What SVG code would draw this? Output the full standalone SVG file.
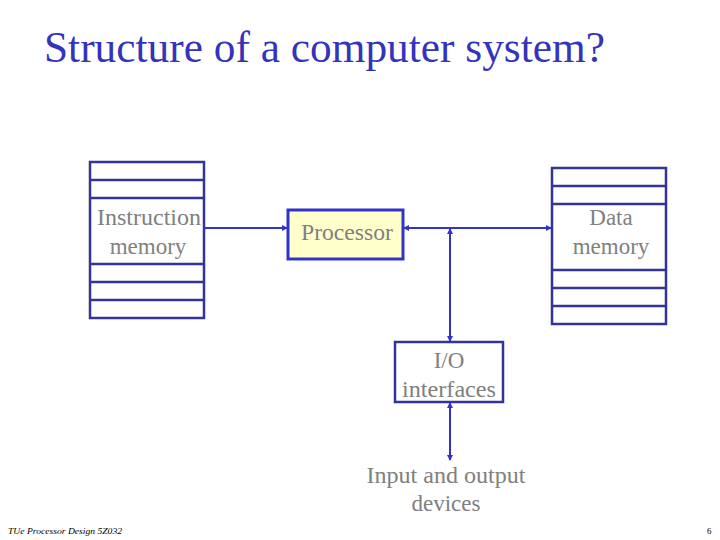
<svg xmlns="http://www.w3.org/2000/svg" width="720" height="540" viewBox="0 0 720 540">
<style>
.serif{font-family:"Liberation Serif","Times New Roman","DejaVu Serif",serif}
.box{fill:#fff;stroke:#333399;stroke-width:2.5}
.row{stroke:#333399;stroke-width:2.5}
.lbl{font-family:"Liberation Serif","Times New Roman","DejaVu Serif",serif;font-size:23px;fill:#808080;text-anchor:middle}
.con{stroke:#3333cc;stroke-width:2;fill:none}
</style>
<defs>
<marker id="ah" markerWidth="6" markerHeight="6" refX="5" refY="3" orient="auto-start-reverse" markerUnits="userSpaceOnUse">
<path d="M0,0 L6,3 L0,6 z" fill="#3333cc"/>
</marker>
</defs>
<rect width="720" height="540" fill="#fff"/>
<text class="serif" x="44" y="62" font-size="45" fill="#3333bb" textLength="561" lengthAdjust="spacingAndGlyphs">Structure of a computer system?</text>
<g id="instr">
<rect class="box" x="90" y="162" width="114" height="156"/>
<line class="row" x1="90" y1="180" x2="204" y2="180"/>
<line class="row" x1="90" y1="198" x2="204" y2="198"/>
<line class="row" x1="90" y1="264" x2="204" y2="264"/>
<line class="row" x1="90" y1="282" x2="204" y2="282"/>
<line class="row" x1="90" y1="300" x2="204" y2="300"/>
<text class="lbl" x="149" y="225" textLength="104" lengthAdjust="spacingAndGlyphs">Instruction</text>
<text class="lbl" x="148" y="254">memory</text>
</g>
<g id="data">
<rect class="box" x="552" y="168" width="114" height="156"/>
<line class="row" x1="552" y1="186" x2="666" y2="186"/>
<line class="row" x1="552" y1="204" x2="666" y2="204"/>
<line class="row" x1="552" y1="270" x2="666" y2="270"/>
<line class="row" x1="552" y1="288" x2="666" y2="288"/>
<line class="row" x1="552" y1="306" x2="666" y2="306"/>
<text class="lbl" x="611" y="225">Data</text>
<text class="lbl" x="611" y="254">memory</text>
</g>
<g id="proc">
<rect x="288" y="210" width="115" height="49" fill="#ffffcc" stroke="#3333cc" stroke-width="3"/>
<text class="lbl" x="347" y="240" textLength="92" lengthAdjust="spacingAndGlyphs">Processor</text>
</g>
<g id="io">
<rect x="395" y="342" width="108" height="60" fill="#fff" stroke="#333399" stroke-width="2.5"/>
<text class="lbl" x="449" y="368">I/O</text>
<text class="lbl" x="449" y="397" textLength="94" lengthAdjust="spacingAndGlyphs">interfaces</text>
</g>
<g id="devices">
<text class="lbl" x="446" y="483" textLength="159" lengthAdjust="spacingAndGlyphs">Input and output</text>
<text class="lbl" x="446" y="511">devices</text>
</g>
<g id="connectors">
<line class="con" x1="204" y1="228" x2="287" y2="228" marker-end="url(#ah)"/>
<line class="con" x1="404" y1="228" x2="551" y2="228" marker-start="url(#ah)" marker-end="url(#ah)"/>
<line class="con" x1="450" y1="229" x2="450" y2="341" marker-start="url(#ah)" marker-end="url(#ah)"/>
<line class="con" x1="450" y1="403" x2="450" y2="460" marker-start="url(#ah)" marker-end="url(#ah)"/>
</g>
<text class="serif" x="8" y="534" font-size="9" font-style="italic" fill="#000" textLength="114" lengthAdjust="spacingAndGlyphs">TUe   Processor Design 5Z032</text>
<text class="serif" x="707" y="534" font-size="9" fill="#000">6</text>
</svg>
